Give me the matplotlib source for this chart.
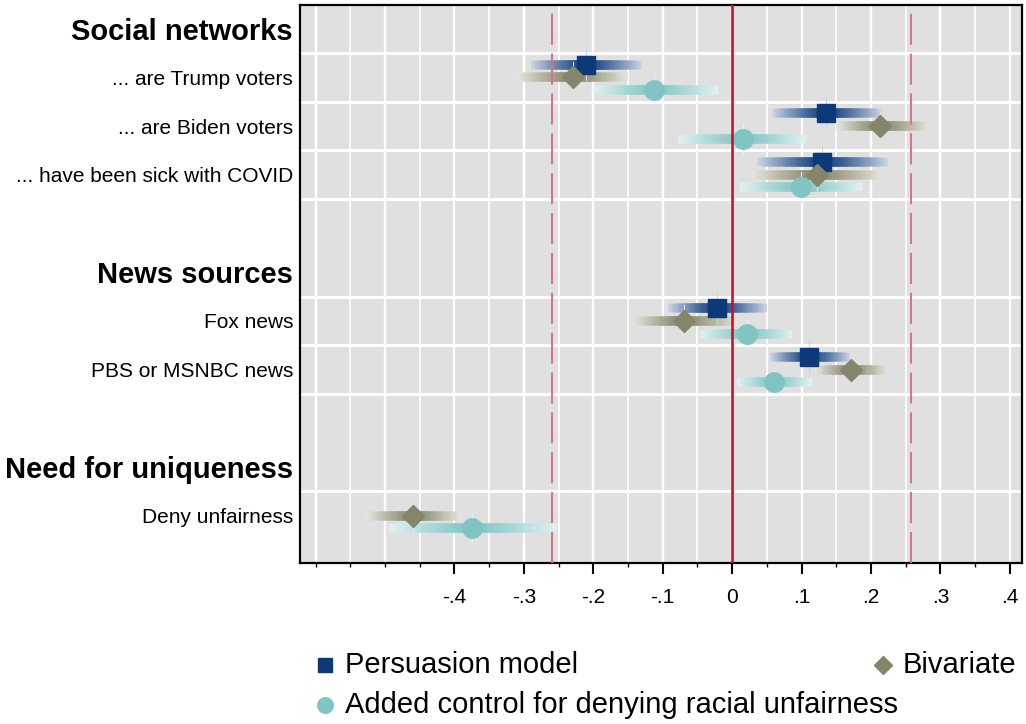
import numpy as np
import matplotlib.pyplot as plt
from matplotlib.collections import LineCollection
from matplotlib.lines import Line2D
from matplotlib.colors import to_rgb

plt.rcParams['font.family'] = ['Liberation Sans', 'DejaVu Sans']

# rows: headers and items (top to bottom)
row_labels = ['Social networks', '... are Trump voters', '... are Biden voters',
              '... have been sick with COVID', '', 'News sources', 'Fox news',
              'PBS or MSNBC news', '', 'Need for uniqueness', 'Deny unfairness']
header_rows = [0, 5, 9]
item_rows = [1, 2, 3, 6, 7, 10]
grid_rows = [0.5, 1.5, 2.5, 3.5, 5.5, 6.5, 7.5, 9.5]

# estimates and CIs for the item rows (Trump, Biden, COVID, Fox, PBS, Deny)
persuasion_est = [-0.210, 0.135, 0.130, -0.022, 0.111, np.nan]
persuasion_lo = [-0.290, 0.058, 0.036, -0.092, 0.055, np.nan]
persuasion_hi = [-0.130, 0.216, 0.224, 0.050, 0.170, np.nan]

bivariate_est = [-0.229, 0.213, 0.122, -0.070, 0.171, -0.459]
bivariate_lo = [-0.310, 0.150, 0.029, -0.144, 0.120, -0.527]
bivariate_hi = [-0.150, 0.285, 0.217, 0.009, 0.224, -0.391]

control_est = [-0.112, 0.016, 0.099, 0.021, 0.060, -0.374]
control_lo = [-0.200, -0.078, 0.012, -0.045, 0.007, -0.495]
control_hi = [-0.020, 0.106, 0.187, 0.087, 0.115, -0.252]

ref_solid = 0.0
ref_dashed = [-0.259, 0.258]

major_ticks = [-0.4, -0.3, -0.2, -0.1, 0.0, 0.1, 0.2, 0.3, 0.4]
major_labels = ['-.4', '-.3', '-.2', '-.1', '0', '.1', '.2', '.3', '.4']

bg = '#e0e0e0'
series = [
    ('Persuasion model', persuasion_est, persuasion_lo, persuasion_hi, -0.26, 's', 13, '#0c3978', '#c9d3e3'),
    ('Bivariate', bivariate_est, bivariate_lo, bivariate_hi, 0.0, 'D', 11, '#84856a', '#e5e5dc'),
    ('Added control for denying racial unfairness', control_est, control_lo, control_hi, 0.26, 'o', 14, '#80c4c3', '#e0f1f1'),
]

fig = plt.figure(figsize=(10.26, 7.24), dpi=100)
ax = fig.add_axes([0.2924, 0.2224, 0.7036, 0.7707])
ax.set_facecolor(bg)

ax.set_xlim(-0.6225, 0.4175)
ax.set_ylim(10.97, -0.485)

# grid
for v in np.arange(-0.60, 0.41, 0.05):
    lw = 1.7 if abs(round(v * 10) - v * 10) < 1e-6 else 1.2
    ax.axvline(v, color='white', lw=lw, zorder=1)
for g in grid_rows:
    ax.axhline(g, color='white', lw=2.2, zorder=1)


def gradient_bar(ax, y, est, lo, hi, c_dark, c_light, n=40):
    # overlapping segments from the estimate outward, lightest drawn first
    c1 = np.array(to_rgb(c_dark))
    c2 = np.array(to_rgb(c_light))
    segs, cols = [], []
    for end in (lo, hi):
        for k in range(n, 0, -1):
            t = k / n
            f = min(1.0, t ** 1.2)
            segs.append([(est, y), (est + (end - est) * t, y)])
            cols.append(c1 * (1 - f) + c2 * f)
    lc = LineCollection(segs, colors=cols, linewidths=6.0, capstyle='butt', zorder=3)
    ax.add_collection(lc)


for name, est, lo, hi, off, mk, ms, cd, cl in series:
    for r, e, a, b in zip(item_rows, est, lo, hi):
        if np.isnan(e):
            continue
        y = r + off
        gradient_bar(ax, y, e, a, b, cd, cl)
        ax.plot([e, e], [y - 0.32, y + 0.32], color=cl, lw=0.8, zorder=3.5)
        ax.plot(e, y, marker=mk, ms=ms, color=cd, mec=cd, ls='none', zorder=4)

# reference lines
ax.axvline(ref_solid, color='#c8102e', lw=1.9, zorder=6)
for v in ref_dashed:
    ax.axvline(v, color='#d9708b', lw=1.4, dashes=(16, 4.5), zorder=6)

# axes styling
for s in ax.spines.values():
    s.set_color('black')
    s.set_linewidth(1.6)

ax.set_xticks(major_ticks)
ax.set_xticklabels(major_labels, fontsize=15)
ax.set_xticks(np.arange(-0.60, 0.41, 0.05), minor=True)
ax.tick_params(axis='x', which='major', length=8, width=1.5, pad=10)
ax.tick_params(axis='x', which='minor', length=3, width=1.0)

ax.set_yticks(range(len(row_labels)))
ax.set_yticklabels(row_labels)
ax.tick_params(axis='y', length=0, pad=5)
for i, t in enumerate(ax.get_yticklabels()):
    if i in header_rows:
        t.set_fontsize(21)
        t.set_fontweight('bold')
    else:
        t.set_fontsize(15)

# legend drawn by hand
legend_items = [
    (series[0], 0.3168, 0.0815),
    (series[1], 0.8606, 0.0815),
    (series[2], 0.3168, 0.0262),
]
for (name, est, lo, hi, off, mk, ms, cd, cl), lx, ly in legend_items:
    fig.add_artist(Line2D([lx], [ly], marker=mk, ms=ms * 0.8, color=cd, ls='none',
                          transform=fig.transFigure))
    fig.text(lx + 0.019, ly, name, fontsize=21, va='center', ha='left')

fig.savefig('out.png', dpi=100)
